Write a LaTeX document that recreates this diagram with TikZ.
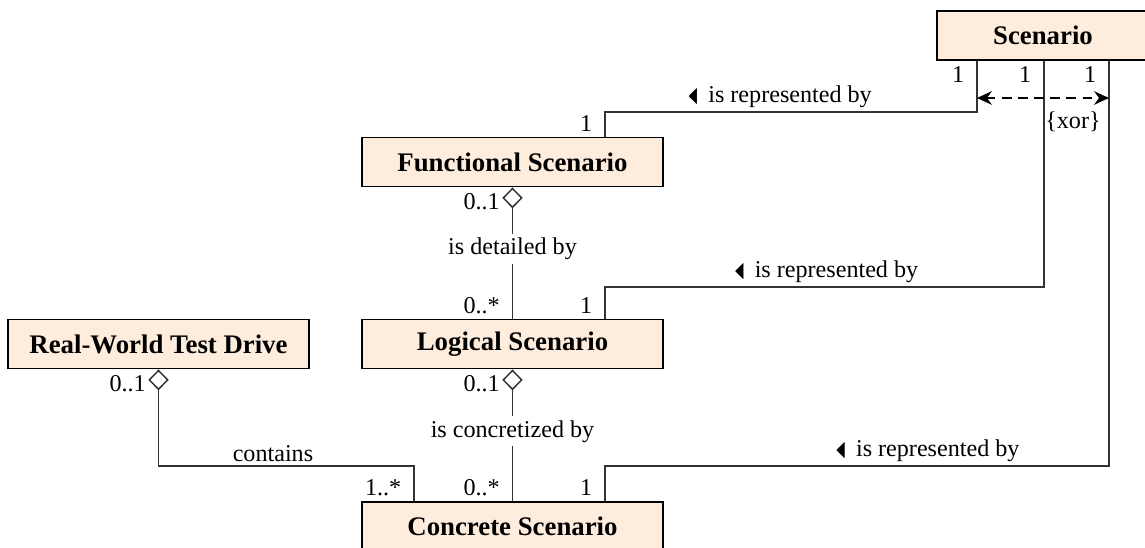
\documentclass[tikz,border=0pt]{standalone}
\usepackage{fontspec}
\setmainfont{Liberation Serif}
\usepackage{amssymb}
\usetikzlibrary{arrows.meta,calc}
\definecolor{boxfill}{RGB}{254,236,221}
\newcommand\lefttri{\raisebox{-0.1ex}{\scalebox{0.55}[1.15]{$\blacktriangleleft$}}\hspace{0.42em}}
\begin{document}
\begin{tikzpicture}[x=0.3731pt,y=-0.3731pt,
  cls/.style={draw=black, fill=boxfill, line width=0.7pt, minimum width=112.3pt,
    minimum height=18.3pt, inner sep=0pt, font=\bfseries},
  assoc/.style={draw=black!80, line width=0.55pt},
  agg/.style={assoc, {Diamond[open,length=7.8pt,width=7.6pt,line width=0.55pt]}-},
  mult/.style={inner sep=1.2pt, anchor=east, font=\small},
  lbl/.style={inner sep=1.5pt, font=\small},
  onl/.style={inner sep=1.5pt, fill=white, font=\small}]
\clip (0,0) rectangle (1145,548);
% classes
\node[cls, minimum width=79.1pt] (scen) at (1043,35.5) {Scenario};
\node[cls] (func) at (512.5,162) {Functional Scenario};
\node[cls] (logi) at (512.5,344) {Logical Scenario};
\node[cls] (conc) at (512.5,526.5) {Concrete Scenario};
\node[cls] (rwtd) at (158.5,344) {Real-World Test Drive};
% helper coordinates
\coordinate (k1) at (977,112);
\coordinate (k2) at (1044,287);
\coordinate (k3) at (1109,466);
\coordinate (kx) at (605,0);
\coordinate (kc) at (158.5,466);
\coordinate (kd) at (414,0);
\coordinate (xa) at (977,98);
\coordinate (xb) at (1109,98);
% represented-by associations
\draw[assoc] (scen.south -| k1) -- (k1) -| node[pos=0.265, lbl, above] {\lefttri is represented by} (func.north -| kx);
\draw[assoc] (scen.south -| k2) -- (k2) -| node[pos=0.248, lbl, above] {\lefttri is represented by} (logi.north -| kx);
\draw[assoc] (scen.south -| k3) -- (k3) -| node[pos=0.18, lbl, above] {\lefttri is represented by} (conc.north -| kx);
% xor constraint
\draw[line width=0.9pt, dash pattern=on 3.5pt off 2.5pt, {Stealth[length=5.5pt,width=5pt]}-{Stealth[length=5.5pt,width=5pt]}] (xa) -- (xb);
\node[lbl] (xor) at (1073,122) {\{xor\}};
% aggregations
\draw[agg] (func.south) -- node[pos=0.466, onl] {is detailed by} (logi.north);
\draw[agg] (logi.south) -- node[pos=0.47, onl] {is concretized by} (conc.north);
\draw[agg] (rwtd.south) -- (kc) -| node[pos=0.224, lbl, above] {contains} (conc.north -| kd);
% multiplicities
\node[mult] (m1) at ($(scen.south -| k1)+(-9,14)$) {1};
\node[mult] (m2) at ($(scen.south -| k2)+(-9,14)$) {1};
\node[mult] (m3) at ($(scen.south -| k3)+(-9,14)$) {1};
\node[mult] (m4) at ($(func.north -| kx)+(-9,-13)$) {1};
\node[mult] (m5) at ($(func.south)+(-9,14)$) {0..1};
\node[mult] (m6) at ($(logi.north)+(-9,-13)$) {0..*};
\node[mult] (m7) at ($(logi.north -| kx)+(-9,-13)$) {1};
\node[mult] (m8) at ($(logi.south)+(-9,14)$) {0..1};
\node[mult] (m9) at ($(rwtd.south)+(-9,14)$) {0..1};
\node[mult] (m10) at ($(conc.north -| kd)+(-9,-13)$) {1..*};
\node[mult] (m11) at ($(conc.north)+(-9,-13)$) {0..*};
\node[mult] (m12) at ($(conc.north -| kx)+(-9,-13)$) {1};
\end{tikzpicture}
\end{document}
